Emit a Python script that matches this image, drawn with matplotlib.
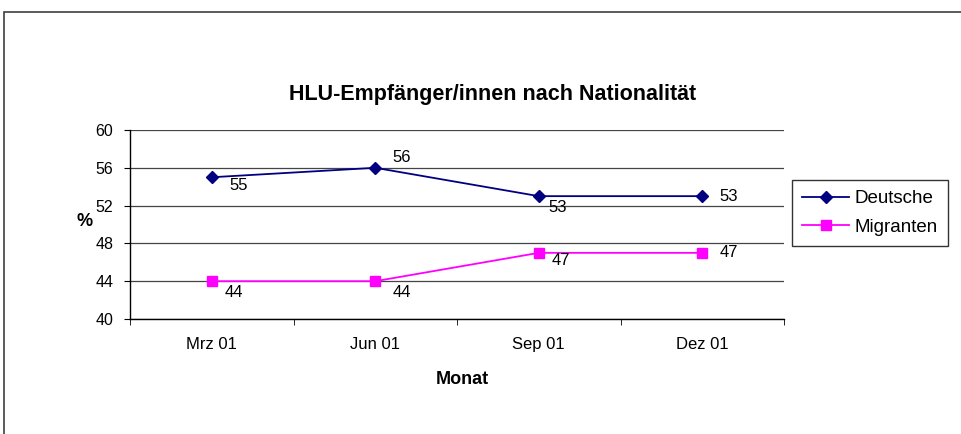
import matplotlib
matplotlib.use("Agg")
import matplotlib.pyplot as plt
from matplotlib.patches import Rectangle

plt.rcParams["font.family"] = ["Liberation Sans", "DejaVu Sans"]

# values
months = ["Mrz 01", "Jun 01", "Sep 01", "Dez 01"]
deutsche = [55, 56, 53, 53]
migranten = [44, 44, 47, 47]
y_ticks = [40, 44, 48, 52, 56, 60]

# label offsets in pixels (dx to left edge, dy to centre, screen-down positive)
deutsche_offsets = [(18, 8), (17, -10), (10, 11), (17, 0)]
migranten_offsets = [(13, 11), (17, 11), (13, 8), (17, 0)]

W, H = 962, 434
fig = plt.figure(figsize=(W / 100, H / 100), dpi=100)

# outer chart-area border (cut off at right and bottom in the reference)
fig.patches.append(Rectangle((4 / W, -0.1), 1.2, 1.1 - 12 / H,
                             transform=fig.transFigure, fill=False,
                             edgecolor="#404040", linewidth=1.2))

ax = fig.add_axes([130 / W, 1 - 319 / H, 654 / W, 189 / H])
x = list(range(len(months)))

l1, = ax.plot(x, deutsche, color="#000080", marker="D", markersize=6.5,
              linewidth=1.3, label="Deutsche")
l2, = ax.plot(x, migranten, color="#FF00FF", marker="s", markersize=6.5,
              linewidth=1.3, label="Migranten")

for xi, v, (dx, dy) in zip(x, deutsche, deutsche_offsets):
    ax.annotate(str(v), (xi, v), xytext=(dx, -dy), textcoords="offset pixels",
                ha="left", va="center", fontsize=12)
for xi, v, (dx, dy) in zip(x, migranten, migranten_offsets):
    ax.annotate(str(v), (xi, v), xytext=(dx, -dy), textcoords="offset pixels",
                ha="left", va="center", fontsize=12)

ax.set_xlim(-0.5, len(months) - 0.5)
ax.set_ylim(40, 60)
ax.set_yticks(y_ticks)
ax.set_xticks(x)
ax.set_xticklabels(months, fontsize=12)
ax.set_xticks([i - 0.5 for i in range(len(months) + 1)], minor=True)
ax.tick_params(axis="x", which="major", length=0, pad=13)
ax.tick_params(axis="x", which="minor", length=4, direction="out")
ax.tick_params(axis="y", length=4, direction="out", labelsize=11.5, pad=8)

ax.grid(axis="y", color="#444444", linewidth=0.9)
ax.set_axisbelow(True)
for side in ("top", "right"):
    ax.spines[side].set_visible(False)
for side in ("left", "bottom"):
    ax.spines[side].set_color("black")
    ax.spines[side].set_linewidth(1.0)

# the title is centred on the whole chart area, not on the plot area
ax.set_title("HLU-Empfänger/innen nach Nationalität", fontsize=15.5,
             fontweight="bold", pad=21.5, x=(493 - 130) / 654)
ax.set_xlabel("Monat", fontsize=13, fontweight="bold")
ax.xaxis.set_label_coords((462 - 130) / 654, -(371 - 319) / 189)
ax.set_ylabel("%", fontsize=13, fontweight="bold", rotation=0,
              va="center", ha="center")
ax.yaxis.set_label_coords(-45 / 654, (319 - 222) / 189)

leg = fig.legend(handles=[l1, l2], loc="upper left",
                 bbox_to_anchor=(792 / W, 1 - 180 / H), fontsize=13.5,
                 frameon=True, fancybox=False, borderaxespad=0,
                 handlelength=2.5, handletextpad=0.3, labelspacing=0.6,
                 borderpad=0.55)
leg.get_frame().set_edgecolor("black")
leg.get_frame().set_linewidth(1.0)

fig.savefig("out.png", dpi=100)
